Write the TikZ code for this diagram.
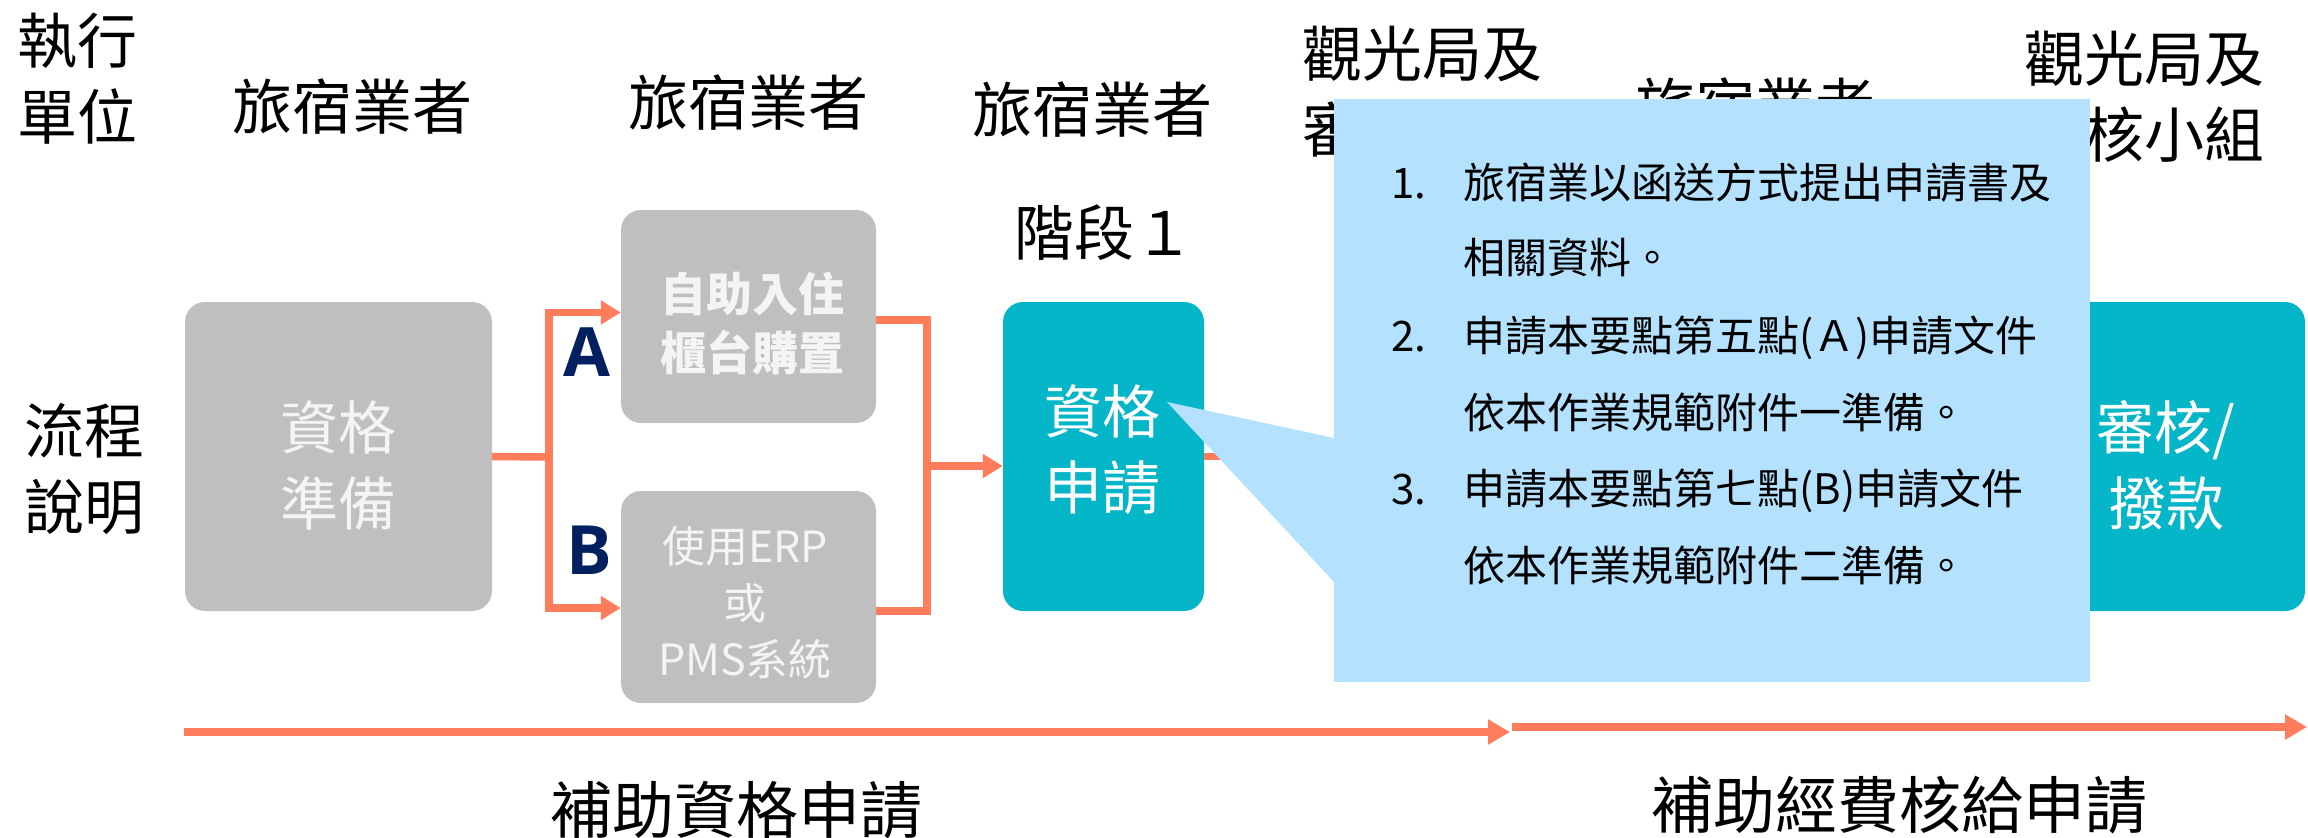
\documentclass[tikz,border=0pt]{standalone}
\usepackage{fontspec}
\setmainfont{Noto Sans CJK TC}
\newfontfamily\abfont{Open Sans}
\usetikzlibrary{arrows.meta,calc}
\definecolor{orng}{HTML}{FF7C5C}
\definecolor{gry}{HTML}{BFBFBF}
\definecolor{tealbox}{HTML}{05B5C8}
\definecolor{calloutc}{HTML}{B4E1FE}
\definecolor{navy}{HTML}{002060}
\definecolor{boxtxt}{HTML}{F4F4F4}
\begin{document}
\begin{tikzpicture}[x=1pt,y=-1pt,
  graybox/.style={fill=gry,rounded corners=20pt,inner sep=0pt},
  tealrect/.style={fill=tealbox,rounded corners=20pt,inner sep=0pt},
  head/.style={font=\fontsize{60}{76}\selectfont,align=center,inner sep=0pt},
  boxlabel/.style={font=\fontsize{58}{76}\selectfont,align=center,text=boxtxt,inner sep=0pt},
  smalllabel/.style={font=\fontsize{46}{59}\selectfont,align=center,text=boxtxt,inner sep=0pt},
  erplabel/.style={font=\fontsize{43}{56.5}\selectfont,align=center,text=boxtxt,inner sep=0pt},
  ablabel/.style={font=\abfont\bfseries\fontsize{68}{80}\selectfont,text=navy,inner sep=0pt},
  noteline/.style={font=\fontsize{42}{50}\selectfont,anchor=base west,inner sep=0pt},
  orline/.style={draw=orng,line width=7.5pt},
  orarrow/.style={draw=orng,line width=7.5pt,-{Triangle[length=20pt,width=23pt]}},
  timearrow/.style={draw=orng,line width=8pt,-{Triangle[length=22pt,width=24pt]}}
]
\useasboundingbox (0,0) rectangle (2308,838);

% header labels
\node[head] (exec) at (77,79) {執行\\單位};
\node[head] (h1) at (352,107) {旅宿業者};
\node[head] (h2) at (748,103) {旅宿業者};
\node[head] (h3) at (1092,110) {旅宿業者};
\node[head] (h4) at (1422,91.5) {觀光局及\\審核小組};
\node[head] (h5) at (1755,106) {旅宿業者};
\node[head] (h6) at (2144,96.5) {觀光局及\\審核小組};
\node[head] (stage) at (1104,233) {階段１};
\node[head] (flow) at (84,468.5) {流程\\說明};

% boxes
\node[graybox,minimum width=307pt,minimum height=309pt] (prep) at (338.5,456.5) {};
\node[boxlabel] (prept) at (338,465) {資格\\準備};
\node[graybox,minimum width=255pt,minimum height=213pt] (selfbox) at (748.5,316.5) {};
\node[smalllabel,font=\bfseries\fontsize{46}{59}\selectfont] (selft) at (752,323) {自助入住\\櫃台購置};
\node[graybox,minimum width=255pt,minimum height=212pt] (erpbox) at (748.5,597) {};
\node[erplabel] (erpt) at (745,603) {使用ERP\\或\\PMS系統};
\node[tealrect,minimum width=201pt,minimum height=309pt] (apply) at (1103.5,456.5) {};
\node[boxlabel,text=white] (applyt) at (1102,450) {資格\\申請};
\node[tealrect,minimum width=201pt,minimum height=309pt] (hidden) at (1434.5,456.5) {};
\node[tealrect,minimum width=280pt,minimum height=309pt] (review) at (2165,456.5) {};
\node[boxlabel,text=white] (reviewt) at (2166,465.5) {審核/\\撥款};

% A / B labels
\node[ablabel] (la) at (587,352) {A};
\node[ablabel] (lb) at (589,550) {B};

% connectors
\coordinate (j1) at (549,457);
\draw[orline] (prep.east) -- (j1);
\draw[orarrow] (j1) |- ($(selfbox.west)+(0,-4)$);
\draw[orarrow] (j1) |- ($(erpbox.west)+(0,11)$);
\coordinate (j2) at (927,466);
\draw[orline] ($(selfbox.east)+(0,3.5)$) -| (j2);
\draw[orline] ($(erpbox.east)+(0,14)$) -| (j2);
\draw[orarrow] (j2) -- ($(apply.west)+(0,9.5)$);
\draw[orarrow] (apply.east) -- (hidden.west);

% timeline
\coordinate (t1s) at (184,732);
\coordinate (t1e) at (1510,732);
\coordinate (t2s) at (1512,727);
\coordinate (t2e) at (2307,727);
\draw[timearrow] (t1s) -- (t1e);
\draw[timearrow] (t2s) -- (t2e);
\node[head,font=\fontsize{62}{76}\selectfont] (phase1) at (736,810) {補助資格申請};
\node[head,font=\fontsize{62}{76}\selectfont] (phase2) at (1899,805) {補助經費核給申請};

% callout
\node[fill=calloutc,minimum width=756pt,minimum height=583pt,inner sep=0pt] (note) at (1712,390.5) {};
\fill[calloutc] (1334,438) -- (1167,402) -- (1334,582) -- cycle;
\node[noteline] (n1) at (1391,198) {1.};
\node[noteline] (n1a) at (1463,198) {旅宿業以函送方式提出申請書及};
\node[noteline] (n1b) at (1463,273) {相關資料。};
\node[noteline] (n2) at (1391,351) {2.};
\node[noteline] (n2a) at (1463,351) {申請本要點第五點(Ａ)申請文件};
\node[noteline] (n2b) at (1463,428) {依本作業規範附件一準備。};
\node[noteline] (n3) at (1391,504) {3.};
\node[noteline] (n3a) at (1463,504) {申請本要點第七點(B)申請文件};
\node[noteline] (n3b) at (1463,581) {依本作業規範附件二準備。};
\end{tikzpicture}
\end{document}
